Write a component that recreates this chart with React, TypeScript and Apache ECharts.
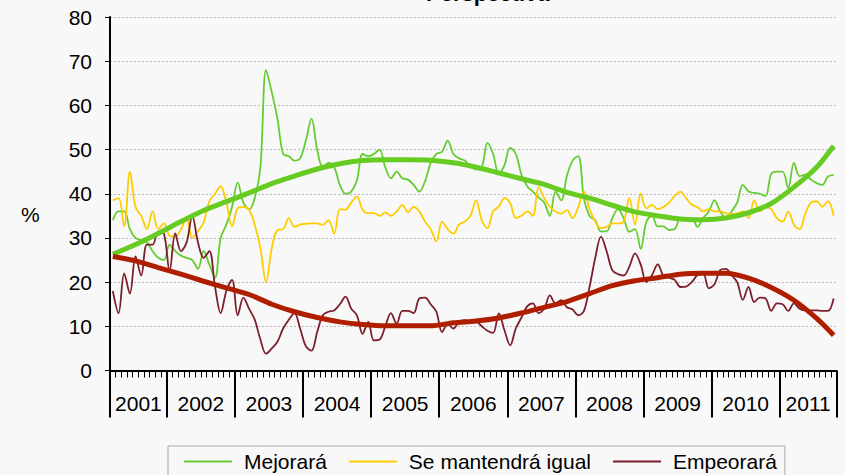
import React, { useEffect, useRef } from "react";
import * as echarts from "echarts";

// Monthly observations, first value = March 2001, last = October 2011
const mejorara = [
  34, 36, 36, 32, 30, 29.5, 29, 27, 25.5, 25,
  28.5, 27, 26, 25.5, 25, 23, 27, 24, 21, 30,
  33, 37, 42.5, 38, 36.5, 39, 46, 68, 63, 57,
  49, 48.5, 47.5, 48, 52, 57, 50, 46, 47, 46,
  42, 40, 40.5, 43, 49, 48.5, 49, 50, 46, 43.5,
  45, 43.5, 43.2, 42, 40.5, 42.8, 47, 49, 49.5, 52,
  49, 48, 47.5, 46.2, 45.5, 46, 51.5, 49, 44.5, 46.5,
  50.4, 49, 44.3, 41.7, 40.5, 39.2, 38, 35, 40.5, 38.5,
  44, 47.5, 48.5, 39, 35, 34, 31.5, 31.5, 34.5, 36.5,
  34.5, 31.4, 32, 27.5, 33.7, 35, 32.6, 32.6, 31.8, 32,
  34.5, 34.5, 34.5, 32.5, 34.5, 36, 38.5, 36, 34.5, 36,
  38, 42, 40.5, 40.2, 40, 39.5, 44.5, 45, 45, 41.3,
  47, 44, 44.3, 43.2, 42.4, 42, 43.9, 44.2,
];

const mantendra = [
  38.5, 39, 32.6, 45, 37, 35, 32, 36, 32, 33.3,
  30.5, 30.3, 32, 34.5, 30, 31.5, 33.5, 38.3, 40, 41.7,
  38, 32.6, 36.7, 37, 36.4, 33, 27.7, 20, 27.7, 31.8,
  32, 34.5, 32.5, 33, 33.2, 33.3, 33.3, 33, 34, 31,
  36.5, 36.4, 38, 39.4, 36.4, 35.6, 35.6, 35, 35.8, 35,
  36, 37.5, 35.8, 37, 36, 33.7, 32, 29.2, 33.7, 32,
  31, 33, 33.7, 35, 38.5, 34, 32.2, 36, 37.1, 39,
  37.9, 34.5, 35, 36, 35, 41.5, 39, 37.1, 36, 35.5,
  36.3, 34.5, 37, 40.5, 36.5, 33.7, 32.2, 32.5, 33.3, 33.3,
  33.7, 39, 33, 40, 36.7, 37.5, 36.5, 37, 38, 39.5,
  40.5, 39, 37.5, 37, 36, 36.5, 36, 36, 35.6, 35.4,
  35.6, 36, 34.5, 38.5, 36, 37, 36.5, 34.5, 33.7, 36,
  33, 32, 35.5, 38, 38.3, 37.1, 38.3, 35,
];

const empeorara = [
  18, 13, 22, 17.4, 25.8, 21.5, 28.5, 28.5, 31.4, 31,
  22.5, 31, 27, 29, 35, 29, 25.5, 27, 19, 13,
  18, 20.5, 12.5, 16.5, 14, 11.5, 7, 3.8, 5, 6.5,
  9.5, 11.5, 13, 9.5, 5.5, 4.5, 8.7, 12.5, 13.3, 13.6,
  15, 16.7, 14, 12.5, 8.3, 11, 6.8, 7, 10, 13,
  10.6, 13.5, 13.5, 13, 16.3, 16.5, 15, 13.3, 8.7, 10.5,
  9.5, 11, 11.4, 11, 11, 10, 9, 8.5, 12.9, 9.1,
  5.7, 9.5, 12, 14.5, 15.2, 13, 14, 17, 15.2, 15.9,
  14.3, 13.8, 12.5, 13.5, 19, 25.5, 30.3, 27, 22.7, 21.8,
  21.5, 23.5, 26.5, 24, 20, 21.6, 24, 21.5, 21, 20.5,
  18.9, 19, 20, 21.6, 22, 18.6, 19.5, 22.7, 23, 21.6,
  20, 16, 18.9, 15.5, 16.5, 16.3, 13.5, 15.2, 15, 13.5,
  15.2, 14, 13.6, 13.6, 13.6, 13.5, 13.5, 16.3,
];

// Trend lines, read at these month indices (0 = March 2001)
const trendMonths = [0, 4, 8, 12, 16, 20, 24, 28, 32, 36, 40, 44, 48, 52, 56, 60, 64, 68, 72, 76, 80, 84, 88, 92, 96, 100, 104, 108, 112, 116, 120, 124, 127];
const trendMejorara = [26.3, 28.5, 31, 33.7, 36.2, 38.2, 40.2, 42.3, 44, 45.6, 46.8, 47.5, 47.7, 47.7, 47.6, 47, 46, 44.7, 43.4, 42.1, 40.3, 39, 37.4, 35.9, 35, 34.3, 34.1, 34.5, 35.7, 37.8, 41.5, 46, 50.8];
const trendEmpeorara = [25.8, 24.8, 23.3, 21.8, 20.2, 18.7, 17.2, 15, 13.3, 12, 11, 10.4, 10.1, 10.1, 10.1, 10.8, 11.2, 11.9, 13, 14.3, 15.6, 17.4, 19.2, 20.3, 21, 21.8, 22, 22, 20.9, 18.8, 15.9, 11.8, 8];

const years = ["2001", "2002", "2003", "2004", "2005", "2006", "2007", "2008", "2009", "2010", "2011"];
const firstMonthOffset = 2; // data starts in March 2001
const monthCount = mejorara.length;

const FONT = "Liberation Sans, Arial, sans-serif";

export default function App() {
  const ref = useRef<HTMLDivElement>(null);

  useEffect(() => {
    document.body.style.margin = "0";
    document.body.style.background = "#f8f8f8";
    if (!ref.current) return;
    const chart = echarts.init(ref.current, null, { renderer: "svg" });

    const toXY = (arr: number[]) => arr.map((v, i) => [i + 0.5, v]);
    const trendXY = (arr: number[]) => arr.map((v, i) => [trendMonths[i] + 0.5, v]);

    // year boundaries (in months from start) and year label centres
    const boundaries: number[] = [0];
    const centers: number[] = [];
    years.forEach((_, k) => {
      const start = Math.max(0, k * 12 - firstMonthOffset);
      const end = Math.min(monthCount, (k + 1) * 12 - firstMonthOffset);
      boundaries.push(end);
      centers.push((start + end) / 2);
    });

    const option: any = {
      animation: false,
      backgroundColor: "#f8f8f8",
      textStyle: { fontFamily: FONT },
      title: {
        text: "Perspectiva",
        left: 421,
        top: -23,
        textStyle: { fontSize: 22, fontWeight: "bold", color: "#000", fontFamily: FONT },
      },
      graphic: [
        {
          type: "text",
          left: 21,
          top: 204,
          style: { text: "%", fontSize: 21, fill: "#000", fontFamily: FONT },
        },
      ],
      grid: { left: 110, right: 9.5, top: 17, bottom: 104.5, containLabel: false },
      legend: {
        data: ["Mejorará", "Se mantendrá igual", "Empeorará"],
        left: 168,
        top: 446,
        orient: "horizontal",
        padding: [5, 8, 8, 16],
        itemGap: 22,
        icon: "rect",
        itemWidth: 48,
        itemHeight: 2,
        borderColor: "#aaaaaa",
        borderWidth: 1,
        textStyle: { fontSize: 21, color: "#000", fontFamily: FONT, padding: [0, 0, 0, 7] },
      },
      xAxis: [
        {
          type: "value",
          min: 0,
          max: monthCount,
          interval: 1,
          position: "bottom",
          axisLine: { show: true, onZero: false, lineStyle: { color: "#000", width: 2 } },
          axisTick: { show: true, length: 7, lineStyle: { color: "#000", width: 1 } },
          axisLabel: { show: false },
          splitLine: { show: false },
        },
        {
          type: "value",
          min: 0,
          max: monthCount,
          position: "bottom",
          axisLine: { show: false, onZero: false },
          axisTick: { show: true, length: 47, customValues: boundaries, lineStyle: { color: "#000", width: 2 } },
          axisLabel: {
            show: true,
            customValues: centers,
            margin: 22,
            fontSize: 21,
            color: "#000",
            fontFamily: FONT,
            formatter: (v: number) => {
              const idx = centers.findIndex((c) => Math.abs(c - v) < 0.01);
              return idx >= 0 ? years[idx] : "";
            },
          },
          splitLine: { show: false },
        },
      ],
      yAxis: {
        type: "value",
        min: 0,
        max: 80,
        interval: 10,
        axisLine: { show: true, lineStyle: { color: "#000", width: 2 } },
        axisTick: { show: true, length: 5, lineStyle: { color: "#000", width: 1 } },
        axisLabel: { fontSize: 21, color: "#000", margin: 18, fontFamily: FONT },
        splitLine: { show: true, lineStyle: { color: "#bbbbbb", type: [2, 2], width: 1 } },
      },
      series: [
        {
          name: "Mejorará",
          type: "line",
          data: toXY(mejorara),
          symbol: "none",
          smooth: 0.35,
          color: "#66cc33",
          lineStyle: { width: 1.8, color: "#66cc33" },
        },
        {
          name: "Se mantendrá igual",
          type: "line",
          data: toXY(mantendra),
          symbol: "none",
          smooth: 0.35,
          color: "#ffcc00",
          lineStyle: { width: 1.8, color: "#ffcc00" },
        },
        {
          name: "Empeorará",
          type: "line",
          data: toXY(empeorara),
          symbol: "none",
          smooth: 0.35,
          color: "#7b1f2b",
          lineStyle: { width: 1.8, color: "#7b1f2b" },
        },
        {
          name: "Tendencia mejorará",
          type: "line",
          data: trendXY(trendMejorara),
          symbol: "none",
          smooth: 0.3,
          color: "#66cc22",
          lineStyle: { width: 5, color: "#66cc22" },
        },
        {
          name: "Tendencia empeorará",
          type: "line",
          data: trendXY(trendEmpeorara),
          symbol: "none",
          smooth: 0.3,
          color: "#b01e00",
          lineStyle: { width: 5, color: "#b01e00" },
        },
      ],
    };

    chart.setOption(option);
    return () => chart.dispose();
  }, []);

  return <div ref={ref} style={{ width: 846, height: 475, background: "#f8f8f8" }} />;
}
